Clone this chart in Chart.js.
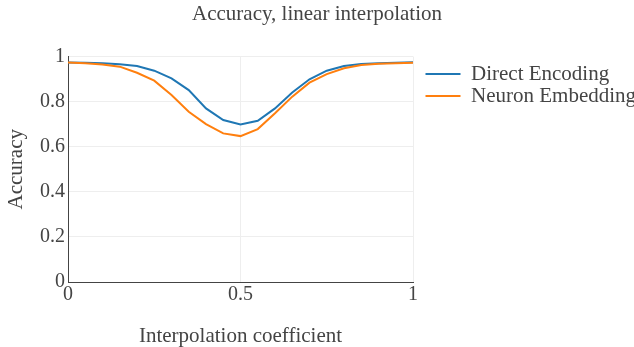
<!DOCTYPE html>
<html>
<head>
<meta charset="utf-8">
<script src="https://cdn.jsdelivr.net/npm/chart.js@4"></script>
<style>
  html, body { margin: 0; padding: 0; background: #fff; }
  #wrap { width: 634px; height: 347px; }
</style>
</head>
<body>
<div id="wrap"><canvas id="chartAcc"></canvas></div>
<script>
// interpolation coefficients (x)
const coefs = [0, 0.05, 0.1, 0.15, 0.2, 0.25, 0.3, 0.35, 0.4, 0.45, 0.5,
               0.55, 0.6, 0.65, 0.7, 0.75, 0.8, 0.85, 0.9, 0.95, 1];
const directEncoding = [0.973, 0.972, 0.970, 0.966, 0.958, 0.937, 0.903, 0.851, 0.770, 0.718, 0.699,
                        0.715, 0.770, 0.840, 0.899, 0.937, 0.958, 0.967, 0.970, 0.972, 0.974];
const neuronEmbedding = [0.973, 0.970, 0.965, 0.955, 0.928, 0.893, 0.829, 0.755, 0.700, 0.659, 0.647,
                         0.678, 0.748, 0.822, 0.884, 0.922, 0.948, 0.962, 0.968, 0.970, 0.972];
const xTicks = [0, 0.5, 1];
const yTicks = [0, 0.2, 0.4, 0.6, 0.8, 1];

const serif = 'Liberation Serif';
const textColor = '#444';

function toPoints(ys) {
    return coefs.map(function(x, i) { return { x: x, y: ys[i] }; });
}

const ctx = document.getElementById('chartAcc').getContext('2d');

new Chart(ctx, {
    type: 'line',
    data: {
        datasets: [
            {
                label: 'Direct Encoding',
                data: toPoints(directEncoding),
                borderColor: '#1f77b4',
                backgroundColor: '#1f77b4',
                borderWidth: 2,
                pointRadius: 0,
                tension: 0,
                order: 1
            },
            {
                label: 'Neuron Embedding',
                data: toPoints(neuronEmbedding),
                borderColor: '#ff7f0e',
                backgroundColor: '#ff7f0e',
                borderWidth: 2,
                pointRadius: 0,
                tension: 0,
                order: 0
            }
        ]
    },
    options: {
        responsive: true,
        maintainAspectRatio: false,
        animation: false,
        layout: { padding: 0 },
        plugins: {
            title: {
                display: true,
                text: 'Accuracy, linear interpolation',
                color: textColor,
                font: { family: serif, size: 21, weight: 'normal', lineHeight: 1 },
                padding: { top: 3.5, bottom: 32 }
            },
            legend: {
                display: true,
                position: 'right',
                align: 'start',
                fullSize: false,
                maxWidth: 209.5,
                title: {
                    display: true,
                    text: '',
                    padding: 0,
                    font: { size: 6, lineHeight: 1 }
                },
                labels: {
                    color: textColor,
                    font: { family: serif, size: 21 },
                    usePointStyle: true,
                    pointStyle: 'line',
                    pointStyleWidth: 35,
                    padding: 1,
                    sort: function(a, b) { return a.datasetIndex - b.datasetIndex; }
                }
            },
            tooltip: { enabled: false }
        },
        scales: {
            x: {
                type: 'linear',
                min: 0,
                max: 1,
                afterBuildTicks: function(s) { s.ticks = xTicks.map(function(v) { return { value: v }; }); },
                afterFit: function(s) { s.height = 65; },
                grid: { color: '#eee', drawTicks: false },
                border: { color: textColor, width: 1 },
                ticks: {
                    color: textColor,
                    font: { family: serif, size: 20 },
                    padding: 1,
                    maxRotation: 0,
                    callback: function(v) { return String(v); }
                },
                title: {
                    display: true,
                    text: 'Interpolation coefficient',
                    color: textColor,
                    font: { family: serif, size: 21, lineHeight: 1 },
                    padding: { top: 0, bottom: 0 }
                }
            },
            y: {
                type: 'linear',
                min: 0,
                max: 1,
                afterBuildTicks: function(s) { s.ticks = yTicks.map(function(v) { return { value: v }; }); },
                afterFit: function(s) { s.width = 68; },
                grid: { color: '#eee', drawTicks: false },
                border: { color: textColor, width: 1 },
                ticks: {
                    color: textColor,
                    font: { family: serif, size: 20 },
                    padding: 3,
                    callback: function(v) { return String(v); }
                },
                title: {
                    display: true,
                    text: 'Accuracy',
                    color: textColor,
                    font: { family: serif, size: 21, lineHeight: 1 },
                    padding: { top: 6, bottom: 0 }
                }
            },
            // empty spacer between the plot and the legend
            gap: {
                type: 'linear',
                position: 'right',
                display: true,
                grid: { display: false },
                border: { display: false },
                ticks: { display: false },
                afterFit: function(s) { s.width = 11.5; }
            }
        }
    }
});
</script>
</body>
</html>
